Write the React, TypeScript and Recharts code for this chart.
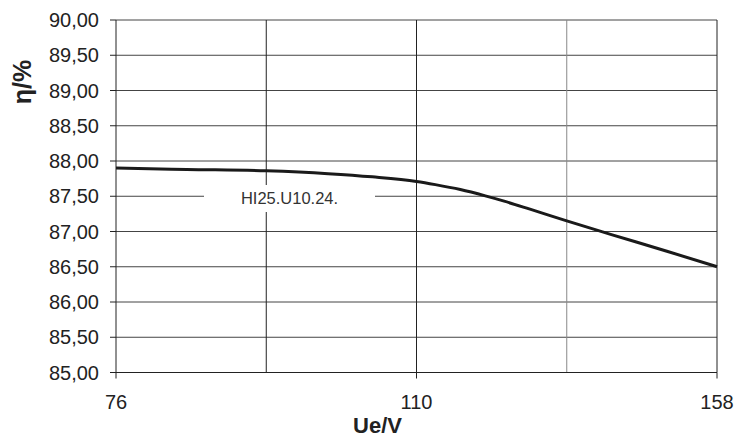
import { LineChart, Line, XAxis, YAxis, CartesianGrid, ReferenceLine, Legend } from 'recharts';

// Input voltage (V) and efficiency (%)
const VOLTAGE = [76, 84, 93, 100, 105, 110, 113, 117, 121, 124, 128, 134, 141, 150, 158];
const EFFICIENCY = [87.9, 87.88, 87.86, 87.82, 87.775, 87.71, 87.665, 87.595, 87.505, 87.43, 87.32, 87.15, 86.96, 86.72, 86.5];

// the x axis is split into 4 equal cells: 76 | 93 | 110 | 134 | 158
const GRID_VOLTS = [76, 93, 110, 134, 158];
const X_TICK_LABELS = ['76', '110', '158'];
const Y_TICKS = [85, 85.5, 86, 86.5, 87, 87.5, 88, 88.5, 89, 89.5, 90];
const SERIES_NAME = 'HI25.U10.24.';

const FONT = "'Liberation Sans', Arial, Helvetica, sans-serif";

// piecewise position of a voltage on the equally spaced grid
function toPos(v: number) {
  for (let i = 0; i < GRID_VOLTS.length - 1; i++) {
    const a = GRID_VOLTS[i];
    const b = GRID_VOLTS[i + 1];
    if (v <= b) return i + (v - a) / (b - a);
  }
  return GRID_VOLTS.length - 1;
}

const data = VOLTAGE.map((v, i) => ({ pos: toPos(v), eta: EFFICIENCY[i] }));

const YLabel = (props: any) => {
  const vb = props.viewBox || { x: 0, y: 20 };
  const cx = vb.x + 31;
  const cy = vb.y + 62;
  return (
    <text
      x={cx}
      y={cy}
      transform={`rotate(-90, ${cx}, ${cy})`}
      textAnchor="middle"
      fontFamily={FONT}
      fontWeight="bold"
      fontSize={25}
      fill="#222"
    >
      η/%
    </text>
  );
};

const XLabel = (props: any) => {
  const vb = props.viewBox || { x: 116, y: 372, width: 601 };
  return (
    <text
      x={vb.x + vb.width / 2 - 39}
      y={433}
      textAnchor="middle"
      fontFamily={FONT}
      fontWeight="bold"
      fontSize={22}
      fill="#222"
    >
      Ue/V
    </text>
  );
};

const LegendBox = () => (
  <div
    style={{
      background: '#fff',
      width: '100%',
      height: '100%',
      display: 'flex',
      alignItems: 'center',
      justifyContent: 'center',
      fontFamily: FONT,
      fontSize: 16.5,
      color: '#333',
    }}
  >
    {SERIES_NAME}
  </div>
);

export default function App() {
  return (
    <div style={{ position: 'absolute', left: 0, top: 0 }}>
      <LineChart width={735} height={439} data={data} margin={{ top: 20, right: 18, left: 0, bottom: 0 }}>
        <CartesianGrid horizontal vertical={false} stroke="#444" strokeWidth={1} />
        <XAxis
          type="number"
          dataKey="pos"
          domain={[0, 4]}
          ticks={[0, 2, 4]}
          tickFormatter={(v: number) => X_TICK_LABELS[v / 2]}
          height={66.5}
          stroke="#222"
          tickSize={6}
          tickMargin={16.5}
          tick={{ fill: '#222', fontSize: 20, fontFamily: FONT }}
          label={<XLabel />}
        />
        <YAxis
          type="number"
          domain={[85, 90]}
          ticks={Y_TICKS}
          width={116}
          stroke="#222"
          tickSize={6}
          tickMargin={11}
          tickFormatter={(v: number) => v.toFixed(2).replace('.', ',')}
          tick={{ fill: '#222', fontSize: 20, fontFamily: FONT }}
          label={<YLabel />}
        />
        <ReferenceLine x={1} stroke="#222" />
        <ReferenceLine x={2} stroke="#222" />
        <ReferenceLine x={3} stroke="#888" />
        <ReferenceLine x={4} stroke="#222" />
        <Legend
          layout="vertical"
          align="center"
          verticalAlign="middle"
          content={<LegendBox />}
          wrapperStyle={{ left: 204, top: 185, width: 171, height: 27 }}
        />
        <Line
          type="monotone"
          dataKey="eta"
          name={SERIES_NAME}
          stroke="#1a1a1a"
          strokeWidth={3}
          dot={false}
          isAnimationActive={false}
        />
      </LineChart>
    </div>
  );
}
